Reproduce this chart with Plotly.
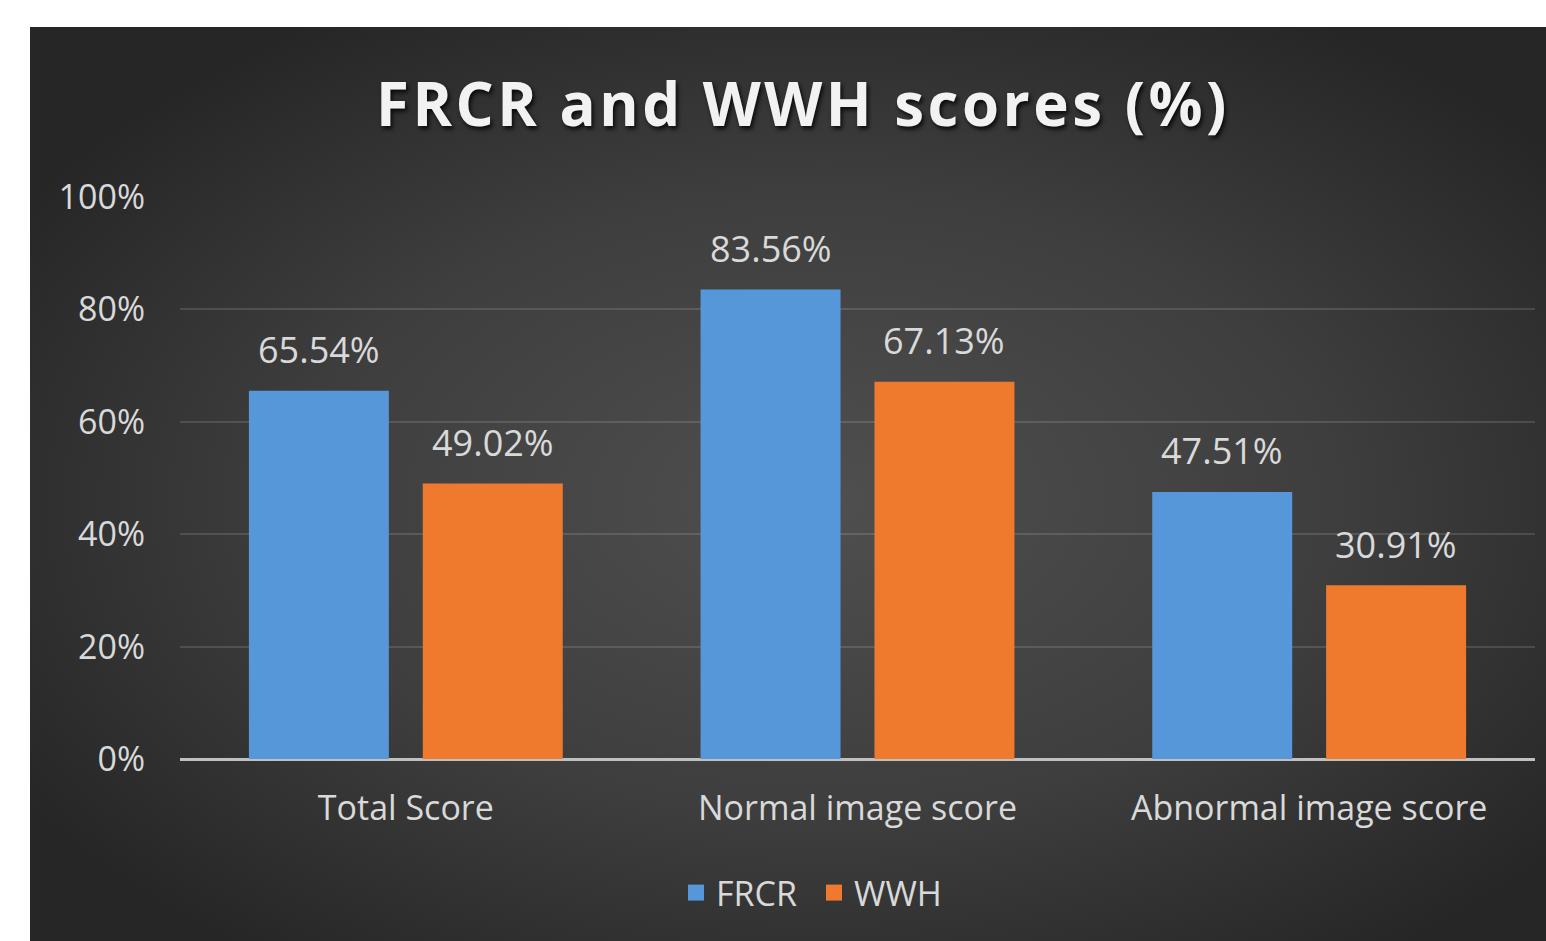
import base64
import plotly.graph_objects as go

categories = ["Total Score", "Normal image score", "Abnormal image score"]
frcr = [65.54, 83.56, 47.51]
wwh = [49.02, 67.13, 30.91]
series_names = ["FRCR", "WWH"]
tick_vals = [0, 20, 40, 60, 80, 100]
tick_text = ["0%", "20%", "40%", "60%", "80%", "100%"]

W, H = 1546, 941
L, R, T, B = 180, 11, 197, 182
pw, ph = W - L - R, H - T - B

def px_x(p):
    return (p - L) / pw

def px_y(p):
    return (H - B - p) / ph

FONT = "Open Sans"
LABEL_COLOR = "#d9d9d9"
BLUE = "#5597d9"
ORANGE = "#ef7a2d"
BARGAP, BARGROUPGAP = 0.23, 0.195

fig = go.Figure()
for name, vals, col in [(series_names[0], frcr, BLUE), (series_names[1], wwh, ORANGE)]:
    fig.add_trace(go.Bar(
        x=categories, y=vals, name=name, showlegend=False, legendgroup=name,
        marker=dict(color=col, line=dict(width=0)),
    ))
    # legend proxy with larger square swatch
    fig.add_trace(go.Scatter(
        x=[None], y=[None], mode="markers", name=name, legendgroup=name,
        marker=dict(symbol="square", size=16, color=col),
    ))

# value labels above bars
slot = pw / len(categories) * (1 - BARGAP) / 2
for k, vals in enumerate([frcr, wwh]):
    shift = (k - 0.5) * slot
    for c, v in zip(categories, vals):
        fig.add_annotation(
            x=c, y=v, xref="x", yref="y", text=f"{v:.2f}%", showarrow=False,
            xshift=shift, yshift=41, yanchor="middle", xanchor="center",
            font=dict(family=FONT, size=36, color=LABEL_COLOR),
        )

svg = '''<svg xmlns="http://www.w3.org/2000/svg" width="1516" height="914" viewBox="0 0 1516 914" preserveAspectRatio="none">
<defs><radialGradient id="g" cx="52%" cy="52%" r="62%" gradientUnits="objectBoundingBox">
<stop offset="0" stop-color="#4f4f4f"/><stop offset="0.55" stop-color="#3e3e3e"/><stop offset="1" stop-color="#262626"/>
</radialGradient></defs>
<rect x="0" y="0" width="1516" height="914" fill="url(#g)"/></svg>'''
uri = "data:image/svg+xml;base64," + base64.b64encode(svg.encode()).decode()

x0, x1 = px_x(30), px_x(1546)
y0, y1 = px_y(27), px_y(941)
fig.add_layout_image(dict(
    source=uri, xref="paper", yref="paper", x=x0, y=y0,
    sizex=x1 - x0, sizey=y0 - y1, sizing="stretch",
    xanchor="left", yanchor="top", layer="below",
))

fig.update_layout(
    width=W, height=H,
    margin=dict(l=L, r=R, t=T, b=B, autoexpand=False),
    paper_bgcolor="white", plot_bgcolor="rgba(0,0,0,0)",
    barmode="group", bargap=BARGAP, bargroupgap=BARGROUPGAP,
    title=dict(
        text="<b><span style='letter-spacing:3.5px'>FRCR and WWH scores (%)</span></b>",
        x=px_x(803), xref="paper", xanchor="center",
        y=1 - 105 / H, yref="container", yanchor="middle",
        font=dict(family=FONT, size=60, color="#f2f2f2",
                  shadow="2px 3px 4px rgba(0,0,0,0.8)"),
    ),
    showlegend=True,
    legend=dict(
        orientation="h", x=px_x(814), xanchor="center",
        y=px_y(893), yanchor="middle",
        font=dict(family=FONT, size=34, color=LABEL_COLOR),
        bgcolor="rgba(0,0,0,0)", itemwidth=30, traceorder="normal",
        entrywidth=93, entrywidthmode="pixels",
    ),
    xaxis=dict(
        showgrid=False, showline=False, ticks="",
        tickfont=dict(family=FONT, size=34, color=LABEL_COLOR),
        ticklabelstandoff=26,
    ),
    yaxis=dict(
        range=[0, 100], tickvals=tick_vals, ticktext=tick_text,
        showgrid=True, gridcolor="rgba(255,255,255,0.13)", gridwidth=1.5,
        zeroline=True, zerolinecolor="#c0c0c0", zerolinewidth=3,
        showline=False, ticks="",
        tickfont=dict(family=FONT, size=34, color=LABEL_COLOR),
        ticklabelstandoff=34,
    ),
)

fig.write_html(
    "out.html",
    config={"displayModeBar": False},
    post_script="document.body.style.margin='0';document.body.style.overflow='hidden';",
)
